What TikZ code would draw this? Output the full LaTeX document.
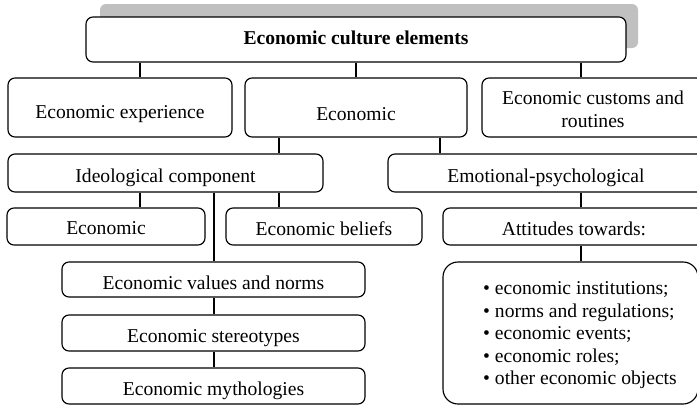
\documentclass[tikz,border=0pt]{standalone}
\usepackage{fontspec}
\setmainfont{Liberation Serif}
\definecolor{shadowgray}{RGB}{192,192,192}
% lower a text inside its box without changing the reported size
\newcommand\dropby[2]{\raisebox{-#1}[\height][\depth]{#2}}
\begin{document}
\begin{tikzpicture}[x=1pt,y=-1pt,
  box/.style={draw, line width=1.15pt, fill=white, rounded corners=7pt,
    inner sep=0pt, align=center,
    font=\fontsize{19.6}{22.5}\selectfont},
  link/.style={draw, line width=1.15pt}]
\useasboundingbox (0,0) rectangle (697,405);
\clip (0,0) rectangle (697,405);

% shadow behind the title
\fill[shadowgray, rounded corners=6pt] (100,4) rectangle (638,48);

% title
\node[box, minimum width=540, minimum height=45, font=\fontsize{19.6}{22.5}\selectfont\bfseries]
  (top) at (356,39.5) {\dropby{-2pt}{Economic culture elements}};

% second row
\node[box, minimum width=224, minimum height=59] (exp) at (120,107.5) {\dropby{7pt}{Economic experience}};
\node[box, minimum width=222, minimum height=59] (eco) at (356,107.5) {\dropby{7pt}{Economic}};
\node[box, minimum width=222, minimum height=59] (cust) at (593,107.5) {\dropby{4pt}{\begin{tabular}{@{}c@{}}Economic customs and\\routines\end{tabular}}};

% components
\node[box, minimum width=315, minimum height=38] (ideo) at (165.5,173) {\dropby{4.5pt}{Ideological component}};
\node[box, minimum width=316, minimum height=38] (emo) at (546,173) {\dropby{4.5pt}{Emotional-psychological}};

% fourth row
\node[box, minimum width=198, minimum height=37] (econ) at (106,226.5) {\dropby{2pt}{Economic}};
\node[box, minimum width=196, minimum height=37] (beliefs) at (324,226.5) {\dropby{2pt}{Economic beliefs}};
\node[box, minimum width=262, minimum height=37] (att) at (574,226.5) {\dropby{2pt}{Attitudes towards:}};

% ideological chain
\node[box, minimum width=303, minimum height=35] (values) at (213.5,279.5) {\dropby{3pt}{Economic values and norms}};
\node[box, minimum width=303, minimum height=36] (stereo) at (213.5,333) {\dropby{5pt}{Economic stereotypes}};
\node[box, minimum width=303, minimum height=36] (myth) at (213.5,386) {\dropby{5pt}{Economic mythologies}};

% list of attitude objects
\node[box, rounded corners=15pt, minimum width=255, minimum height=142] (list) at (570.5,333)
  {\dropby{2pt}{\hspace*{19pt}\begin{tabular}{@{}l@{}}
    \textbullet\ economic institutions;\\
    \textbullet\ norms and regulations;\\
    \textbullet\ economic events;\\
    \textbullet\ economic roles;\\
    \textbullet\ other economic objects
  \end{tabular}}};

% connector columns
\coordinate (cA) at (140,0);
\coordinate (cB) at (356,0);
\coordinate (cC) at (581,0);
\coordinate (cD) at (279,0);
\coordinate (cE) at (440,0);
\coordinate (cF) at (214,0);

\draw[link] (top.south -| cA) -- (exp.north -| cA);
\draw[link] (top.south -| cB) -- (eco.north -| cB);
\draw[link] (top.south -| cC) -- (cust.north -| cC);
\draw[link] (eco.south -| cD) -- (ideo.north -| cD);
\draw[link] (eco.south -| cE) -- (emo.north -| cE);
\draw[link] (ideo.south -| cA) -- (econ.north -| cA);
\draw[link] (ideo.south -| cD) -- (beliefs.north -| cD);
\draw[link] (ideo.south -| cF) -- (values.north -| cF);
\draw[link] (emo.south -| cC) -- (att.north -| cC);
\draw[link] (att.south -| cC) -- (list.north -| cC);
\draw[link] (values.south -| cF) -- (stereo.north -| cF);
\draw[link] (stereo.south -| cF) -- (myth.north -| cF);
\end{tikzpicture}
\end{document}
